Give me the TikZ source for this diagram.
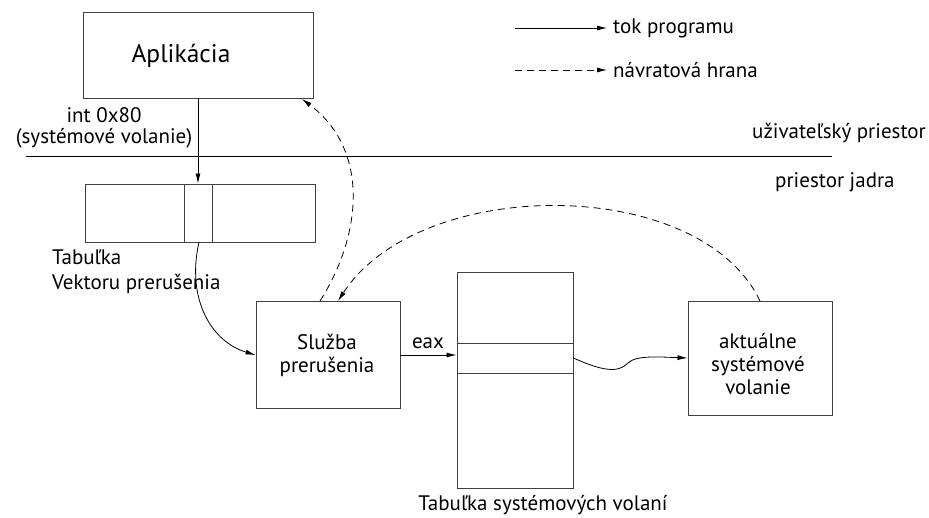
\documentclass[tikz,border=0pt]{standalone}
\usepackage{fontspec}
\setmainfont{PT Sans}
\usetikzlibrary{arrows.meta}
\tikzset{
  box/.style={draw=black!75, line width=0.9pt, minimum width=#1, inner sep=0pt},
  txt/.style={inner sep=0pt, align=center, font=\fontsize{21}{23}\selectfont},
  flow/.style={line width=0.8pt, -{Latex[length=10pt,width=5pt]}},
  ret/.style={line width=0.8pt, dash pattern=on 7pt off 5pt, -{Latex[length=10pt,width=5pt]}},
  sep/.style={draw=black!75, line width=0.9pt}
}
\begin{document}
\begin{tikzpicture}[x=1pt,y=-1pt]
\useasboundingbox (0,0) rectangle (929,518);
% boxes
\node[box=230pt, minimum height=86pt] (app) at (198,55) {};
\node[txt, font=\fontsize{25.5}{28}\selectfont] (apptxt) at (181,56) {Aplikácia};
\node[box=230pt, minimum height=58pt] (vt) at (200,213) {};
\draw[sep] (184,184) -- (184,242);
\draw[sep] (212,184) -- (212,242);
\node[box=144pt, minimum height=107pt] (sl) at (328,355) {};
\node[txt] (sltxt) at (327,355) {Služba\\prerušenia};
\node[box=116pt, minimum height=216pt] (sct) at (515,380) {};
\draw[sep] (sct.west |- 0,343) -- (sct.east |- 0,343);
\draw[sep] (sct.west |- 0,373) -- (sct.east |- 0,373);
\node[box=144pt, minimum height=114pt] (ak) at (760,358) {};
\node[txt] (aktxt) at (758,364) {aktuálne\\systémové\\volanie};
% separator line
\coordinate (l1) at (26,156);
\coordinate (l2) at (832,156);
\draw[line width=0.9pt] (l1) -- (l2);
% labels
\node[txt, anchor=east] (us) at (926,133) {uživateľský priestor};
\node[txt, anchor=west] (ks) at (775,182) {priestor jadra};
\node[txt, font=\fontsize{21}{21}\selectfont] (int) at (104,128) {int 0x80\\(systémové volanie)};
\node[txt, align=left, anchor=west, font=\fontsize{21}{25}\selectfont] (vtl) at (52,272) {Tabuľka\\Vektoru prerušenia};
\node[txt] (sctl) at (543,505) {Tabuľka systémových volaní};
\node[txt] (eax) at (428,343) {eax};
% legend
\coordinate (a1) at (515,28); \coordinate (a2) at (607,28);
\coordinate (b1) at (515,70); \coordinate (b2) at (607,70);
\draw[flow] (a1) -- (a2);
\draw[ret] (b1) -- (b2);
\node[txt, anchor=west] (lg1) at (613,28) {tok programu};
\node[txt, anchor=west] (lg2) at (613,70) {návratová hrana};
% flows
\draw[flow] (app.south) -- (app.south |- vt.north);
\draw[flow] (199,242) .. controls (186,300) and (212,342) .. (sl.west);
\draw[flow] (sl.east) -- (sct.west |- sl.east);
\draw[flow] (sct.east |- 0,358) .. controls (600,370) and (618,374) .. (628,363)
   .. controls (636,355) and (660,357) .. (ak.west);
% returns
\draw[ret] (320,301) .. controls (362,235) and (370,150) .. (302,99);
\draw[ret] (760,301) .. controls (700,175) and (420,175) .. (338,301);
\end{tikzpicture}
\end{document}
